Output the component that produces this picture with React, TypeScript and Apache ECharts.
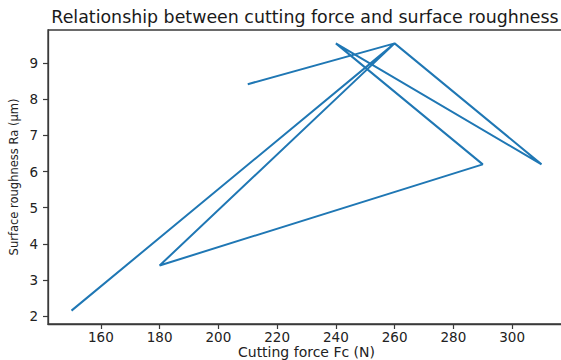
import React, { useEffect, useRef } from "react";
import * as echarts from "echarts";

const cuttingForce = [150, 260, 180, 290, 240, 310, 260, 210];
const roughness = [2.15, 9.55, 3.4, 6.2, 9.55, 6.2, 9.55, 8.42];
const xTicks = [160, 180, 200, 220, 240, 260, 280, 300];
const yTicks = [2, 3, 4, 5, 6, 7, 8, 9];

const titleText = "Relationship between cutting force and surface roughness";
const xName = "Cutting force Fc (N)";
const yName = "Surface roughness Ra (µm)";

export default function App() {
  const ref = useRef<HTMLDivElement>(null);
  useEffect(() => {
    if (!ref.current) return;
    const chart = echarts.init(ref.current, null, { renderer: "svg" });
    const font = "DejaVu Sans";
    const data = cuttingForce.map((x, i) => [x, roughness[i]]);
    chart.setOption({
      animation: false,
      backgroundColor: "#ffffff",
      textStyle: { fontFamily: font },
      grid: {
        left: 48,
        top: 30,
        width: 517,
        height: 294,
        show: true,
        borderColor: "#3a3a3a",
        borderWidth: 1.3,
        containLabel: false,
        outerBoundsMode: "none",
      },
      graphic: [
        {
          type: "text",
          x: 305,
          y: 17,
          style: {
            text: titleText,
            fontFamily: font,
            fontSize: 17.4,
            fill: "#1a1a1a",
            align: "center",
            verticalAlign: "middle",
          },
        },
      ],
      xAxis: {
        type: "value",
        min: 142,
        max: 318,
        name: xName,
        nameLocation: "middle",
        nameGap: 21,
        nameMoveOverlap: false,
        nameTextStyle: { fontFamily: font, fontSize: 14, lineHeight: 14, color: "#222" },
        axisLine: { show: true, lineStyle: { color: "#3a3a3a", width: 1.3 } },
        axisTick: {
          show: true,
          length: 5,
          customValues: xTicks,
          lineStyle: { color: "#3a3a3a", width: 1.2 },
        },
        axisLabel: {
          customValues: xTicks,
          fontFamily: font,
          fontSize: 13.5,
          lineHeight: 14,
          color: "#222",
          margin: 6,
        },
        splitLine: { show: false },
      },
      yAxis: {
        type: "value",
        min: 1.78,
        max: 9.92,
        name: yName,
        nameLocation: "middle",
        nameGap: 28,
        nameMoveOverlap: false,
        nameTextStyle: { fontFamily: font, fontSize: 11.5, color: "#222" },
        axisLine: { show: true, lineStyle: { color: "#3a3a3a", width: 1.3 } },
        axisTick: {
          show: true,
          length: 5,
          customValues: yTicks,
          lineStyle: { color: "#3a3a3a", width: 1.2 },
        },
        axisLabel: {
          customValues: yTicks,
          fontFamily: font,
          fontSize: 13.5,
          color: "#222",
          margin: 10,
        },
        splitLine: { show: false },
      },
      series: [
        {
          type: "line",
          data,
          symbol: "none",
          showSymbol: false,
          lineStyle: { color: "#1f77b4", width: 2 },
          itemStyle: { color: "#1f77b4" },
        },
      ],
    });
    return () => chart.dispose();
  }, []);
  return (
    <div
      ref={ref}
      style={{ position: "absolute", left: 0, top: 0, width: 561, height: 360 }}
    />
  );
}
